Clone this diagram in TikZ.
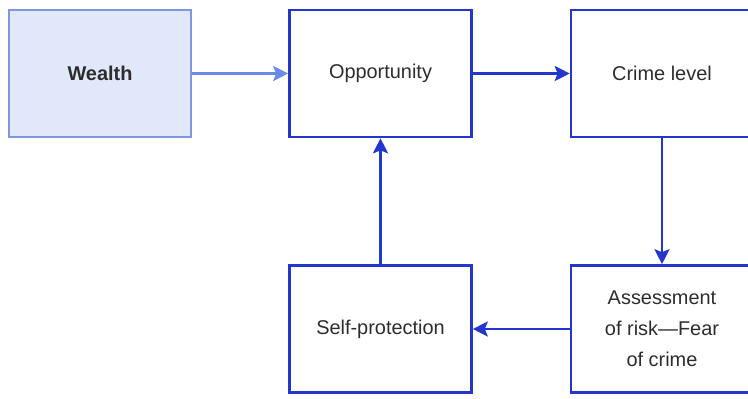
\documentclass[tikz,border=0pt]{standalone}
\usepackage{fontspec}
\setmainfont{Liberation Sans}
\usetikzlibrary{arrows.meta}
\definecolor{boxblue}{RGB}{35,55,205}
\definecolor{paleblue}{RGB}{128,150,222}
\definecolor{palefill}{RGB}{225,232,250}
\definecolor{arrowpale}{RGB}{105,138,232}
\definecolor{textgray}{RGB}{45,45,45}
\tikzset{
  box/.style={draw=boxblue, line width=2.6bp, fill=white, minimum width=182bp, minimum height=127bp,
    align=center, text=textgray, font=\fontsize{20}{31}\selectfont},
  srcbox/.style={box, draw=paleblue, line width=2bp, fill=palefill, font=\fontsize{20}{31}\selectfont\bfseries},
  flow/.style={draw=boxblue, line width=2.6bp, -{Stealth[length=15bp,width=15bp,inset=3bp]}},
  paleflow/.style={flow, draw=arrowpale, line width=2.2bp},
}

\begin{document}
\begin{tikzpicture}[x=1bp,y=-1bp]
\useasboundingbox (0,0) rectangle (748,398);
\clip (0,0) rectangle (748,398);
\node (Wealth) at (100,73.5) [srcbox] {Wealth};
\node (Opp) at (380.5,73.5) [box] {Opportunity};
\node (Crime) at (662,73.5) [box] {Crime level};
\node (Risk) at (662,329) [box] {Assessment\\of risk—Fear\\of crime};
\node (Self) at (380.5,329) [box] {Self-protection};

\draw [paleflow] (Wealth) -- (Opp);
\draw [flow] (Opp) -- (Crime);
\draw [flow] (Crime) -- (Risk);
\draw [flow] (Risk) -- (Self);
\draw [flow] (Self) -- (Opp);
\end{tikzpicture}
\end{document}
